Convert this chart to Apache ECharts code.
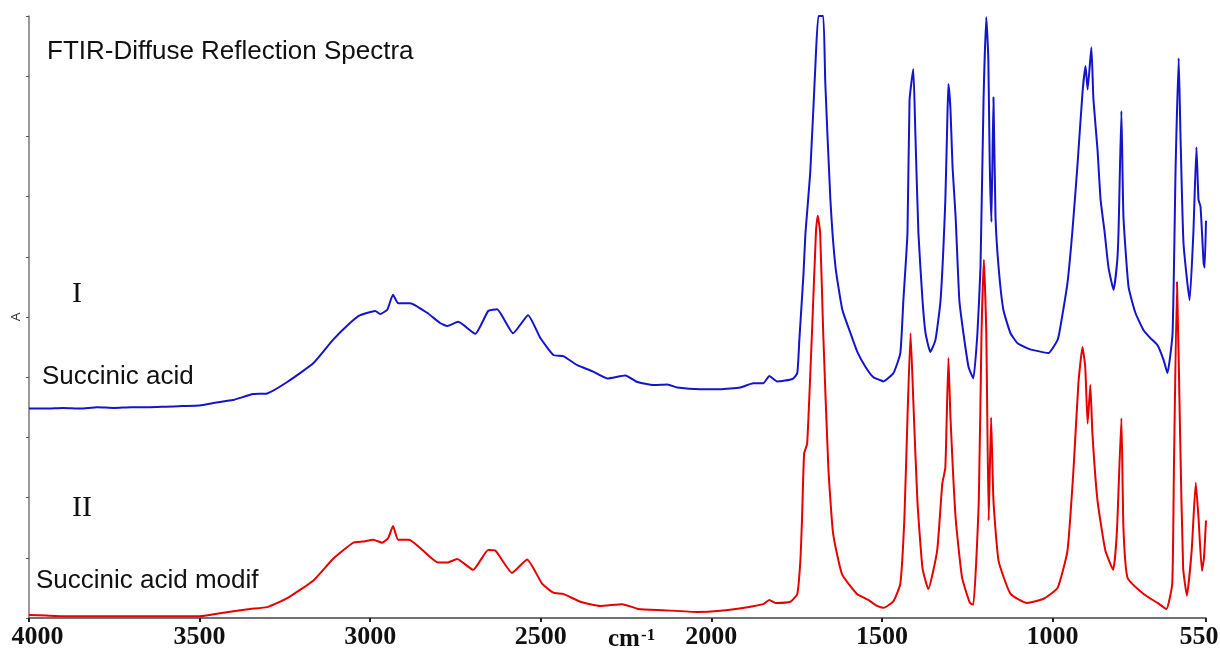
<!DOCTYPE html>
<html>
<head>
<meta charset="utf-8">
<script src="https://cdn.jsdelivr.net/npm/echarts@6/dist/echarts.min.js"></script>
<style>
  html, body { margin: 0; padding: 0; background: #fff; }
  #spectra { width: 1220px; height: 650px; }
</style>
</head>
<body>
<div id="spectra"></div>
<script>
// I - succinic acid (blue), wavenumber cm-1 / absorbance (arbitrary units, 0..10)
var acidWn = [4000, 3950, 3900, 3850, 3800, 3750, 3700, 3650, 3600, 3550, 3500, 3450, 3402, 3343, 3302, 3243, 3167, 3109, 3059, 3029,
  2985, 2971, 2950, 2933, 2918, 2883, 2833, 2795, 2774, 2742, 2692, 2654, 2628, 2581, 2537, 2501, 2463, 2434, 2393, 2349,
  2305, 2252, 2217, 2170, 2129, 2100, 2032, 1974, 1915, 1877, 1848, 1830, 1807, 1762, 1748, 1742, 1730, 1724, 1710, 1695,
  1686, 1672, 1666, 1651, 1636, 1616, 1592, 1572, 1548, 1525, 1504, 1496, 1466, 1446, 1437, 1425, 1419, 1408, 1402, 1393,
  1381, 1372, 1358, 1343, 1328, 1314, 1308, 1305, 1299, 1293, 1284, 1273, 1261, 1246, 1232, 1220, 1211, 1202, 1194, 1188,
  1184, 1179, 1173, 1167, 1158, 1144, 1123, 1103, 1073, 1056, 1012, 985, 977, 956, 942, 927, 912, 903, 897, 886,
  880, 868, 859, 847, 836, 821, 810, 806, 798, 792, 777, 757, 733, 713, 692, 674, 663, 648, 639, 630,
  625, 616, 598, 587, 578, 572, 566, 557, 554, 550];
var acidAbs = [3.48, 3.48, 3.49, 3.48, 3.5, 3.49, 3.5, 3.5, 3.51, 3.52, 3.53, 3.58, 3.62, 3.72, 3.73, 3.92, 4.23, 4.62, 4.9, 5.03,
  5.1, 5.05, 5.12, 5.37, 5.23, 5.23, 5.07, 4.9, 4.85, 4.92, 4.72, 5.1, 5.13, 4.73, 5.03, 4.65, 4.37, 4.35, 4.2, 4.1,
  3.98, 4.03, 3.92, 3.87, 3.88, 3.83, 3.8, 3.8, 3.83, 3.9, 3.9, 4.02, 3.93, 3.97, 4.07, 4.62, 5.7, 6.4, 7.4, 9.17,
  10, 10, 8.9, 6.95, 5.83, 5.12, 4.73, 4.42, 4.17, 4.0, 3.95, 3.93, 4.07, 4.4, 5.28, 6.4, 8.6, 9.12, 8.07, 6.4,
  5.28, 4.73, 4.42, 4.62, 5.28, 6.95, 8.33, 8.87, 8.45, 7.5, 6.67, 5.28, 4.73, 4.17, 3.98, 4.73, 5.83, 8.62, 9.98, 9.28,
  7.57, 6.58, 8.65, 6.67, 5.83, 5.12, 4.73, 4.57, 4.48, 4.45, 4.4, 4.62, 4.83, 5.57, 6.4, 7.5, 8.73, 9.17, 8.78, 9.48,
  8.62, 7.78, 6.95, 6.4, 5.83, 5.45, 5.95, 6.5, 8.42, 6.67, 5.5, 5.07, 4.78, 4.65, 4.53, 4.28, 4.07, 4.73, 7.5, 9.3,
  8.07, 6.23, 5.28, 6.4, 7.82, 6.95, 6.83, 5.9, 5.82, 6.6];

// II - succinic acid modif (red)
var modifWn = [4000, 3950, 3900, 3850, 3800, 3700, 3600, 3500, 3440, 3352, 3302, 3243, 3167, 3109, 3050, 3021, 2991, 2965, 2947, 2933,
  2918, 2886, 2845, 2801, 2774, 2745, 2698, 2654, 2633, 2584, 2540, 2496, 2463, 2434, 2384, 2326, 2261, 2214, 2141, 2041,
  1974, 1894, 1848, 1830, 1812, 1768, 1748, 1739, 1734, 1728, 1719, 1705, 1693, 1688, 1681, 1672, 1657, 1643, 1617, 1573,
  1540, 1514, 1495, 1466, 1446, 1434, 1425, 1416, 1408, 1396, 1381, 1364, 1338, 1323, 1314, 1305, 1299, 1284, 1265, 1242,
  1232, 1216, 1208, 1201, 1194, 1187, 1180, 1173, 1158, 1123, 1074, 1026, 985, 956, 938, 924, 912, 904, 897, 889,
  883, 868, 845, 822, 811, 798, 792, 780, 733, 692, 666, 649, 644, 635, 626, 617, 606, 592, 580, 572,
  562, 556, 550];
var modifAbs = [0.05, 0.04, 0.03, 0.03, 0.03, 0.03, 0.03, 0.03, 0.08, 0.15, 0.18, 0.33, 0.62, 0.98, 1.25, 1.27, 1.3, 1.25, 1.33, 1.53,
  1.3, 1.3, 1.12, 0.92, 0.92, 0.98, 0.8, 1.13, 1.12, 0.75, 0.97, 0.57, 0.42, 0.4, 0.27, 0.2, 0.23, 0.15, 0.13, 0.1,
  0.12, 0.18, 0.23, 0.3, 0.25, 0.27, 0.4, 0.95, 1.67, 2.73, 2.9, 4.73, 6.45, 6.68, 6.4, 4.73, 2.5, 1.4, 0.73, 0.4,
  0.3, 0.2, 0.17, 0.28, 0.57, 1.67, 3.33, 4.73, 3.62, 1.95, 0.83, 0.48, 1.12, 2.23, 2.5, 4.32, 3.33, 1.67, 0.67, 0.25,
  0.22, 1.95, 4.73, 5.95, 4.73, 1.62, 3.33, 1.95, 0.95, 0.4, 0.25, 0.32, 0.5, 1.12, 2.5, 3.9, 4.5, 4.17, 3.23, 3.87,
  3.07, 1.95, 1.12, 0.8, 1.45, 3.32, 1.5, 0.67, 0.4, 0.25, 0.15, 0.57, 2.5, 5.58, 3.07, 0.83, 0.37, 1.12, 2.25, 1.67,
  0.78, 1.0, 1.62];

var xTicks = [4000, 3500, 3000, 2500, 2000, 1500, 1000, 550];

function pairs(wn, ab) {
    var res = [];
    for (var i = 0; i < wn.length; i++) {
        res.push([wn[i], ab[i]]);
    }
    return res;
}

var chart = echarts.init(document.getElementById('spectra'));
var option = {
    animation: false,
    backgroundColor: '#fff',
    grid: { left: 29, right: 14, top: 16, bottom: 32, containLabel: false, outerBoundsMode: 'none' },
    xAxis: {
        type: 'value',
        inverse: true,
        min: 550,
        max: 4000,
        splitLine: { show: false },
        axisLine: { onZero: false, lineStyle: { color: '#444', width: 1.5 } },
        axisTick: { customValues: xTicks, length: 4, lineStyle: { color: '#222', width: 2 } },
        axisLabel: {
            customValues: xTicks,
            // end labels are pushed inside the canvas like in the original plot
            formatter: function (v) {
                if (v === 4000) return '{first|' + v + '}';
                if (v === 550) return '{last|' + v + '}';
                return String(v);
            },
            rich: {
                first: { padding: [0, 0, 0, 17] },
                last: { padding: [0, 14, 0, 0] }
            },
            margin: 6,
            color: '#111',
            fontFamily: '"Liberation Serif", "Times New Roman", serif',
            fontWeight: 'bold',
            fontSize: 26
        }
    },
    yAxis: {
        type: 'value',
        min: 0,
        max: 10,
        interval: 1,
        name: 'A',
        nameLocation: 'middle',
        nameGap: 6,
        nameTextStyle: { color: '#333', fontSize: 13, fontFamily: '"Liberation Sans", Arial, sans-serif' },
        splitLine: { show: false },
        axisLine: { show: true, lineStyle: { color: '#777', width: 1.5 } },
        axisTick: { show: true, length: 3, lineStyle: { color: '#555' } },
        axisLabel: { show: false }
    },
    graphic: [
        { type: 'text', x: 47, y: 52, style: { text: 'FTIR-Diffuse Reflection Spectra', font: '26px "Liberation Sans", Arial, sans-serif', fill: '#111', verticalAlign: 'middle' } },
        { type: 'text', x: 72, y: 294, style: { text: 'I', font: '30px "Liberation Serif", "Times New Roman", serif', fill: '#111', verticalAlign: 'middle' } },
        { type: 'text', x: 42, y: 377, style: { text: 'Succinic acid', font: '26px "Liberation Sans", Arial, sans-serif', fill: '#111', verticalAlign: 'middle' } },
        { type: 'text', x: 72, y: 508, style: { text: 'II', font: '30px "Liberation Serif", "Times New Roman", serif', fill: '#111', verticalAlign: 'middle' } },
        { type: 'text', x: 36, y: 581, style: { text: 'Succinic acid modif', font: '26px "Liberation Sans", Arial, sans-serif', fill: '#111', verticalAlign: 'middle' } },
        { type: 'text', x: 608, y: 640, style: { text: 'cm', font: 'bold 25px "Liberation Serif", "Times New Roman", serif', fill: '#111', verticalAlign: 'middle' } },
        { type: 'text', x: 641, y: 636, style: { text: '-1', font: 'bold 17px "Liberation Serif", "Times New Roman", serif', fill: '#111', verticalAlign: 'middle' } }
    ],
    series: [
        {
            name: 'Succinic acid',
            type: 'line',
            data: pairs(acidWn, acidAbs),
            showSymbol: false,
            symbol: 'none',
            smooth: 0.15,
            lineStyle: { color: '#1414cc', width: 2 },
            itemStyle: { color: '#1414cc' }
        },
        {
            name: 'Succinic acid modif',
            type: 'line',
            data: pairs(modifWn, modifAbs),
            showSymbol: false,
            symbol: 'none',
            smooth: 0.15,
            lineStyle: { color: '#e60000', width: 2 },
            itemStyle: { color: '#e60000' }
        }
    ]
};
chart.setOption(option);
</script>
</body>
</html>
